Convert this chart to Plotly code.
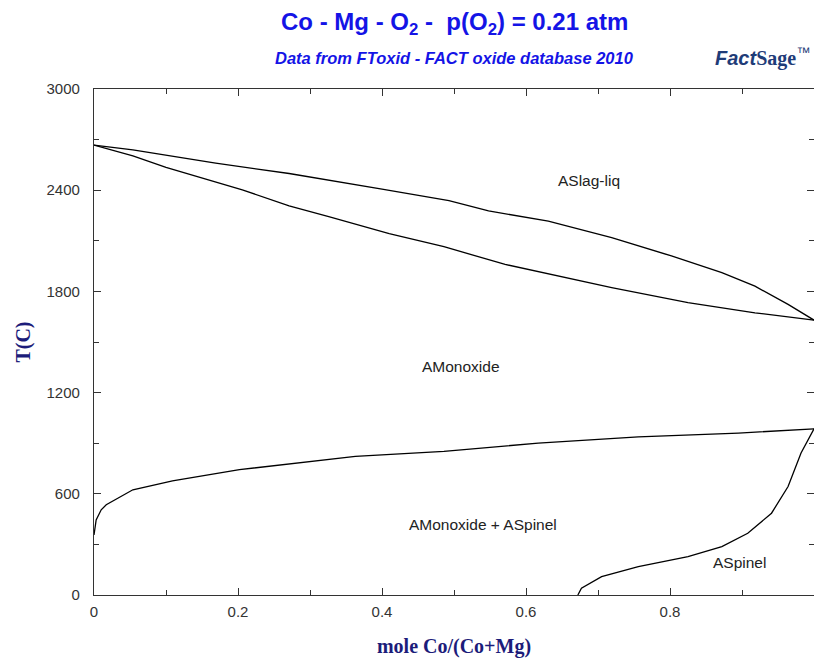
import plotly.graph_objects as go

# Liquidus (upper boundary of two-phase region)
liq_x = [0.0, 0.054, 0.169, 0.271, 0.400, 0.493, 0.548, 0.631, 0.719, 0.802, 0.872, 0.918, 0.964, 1.0]
liq_T = [2667, 2639, 2560, 2499, 2406, 2338, 2277, 2217, 2119, 2010, 1911, 1831, 1723, 1630]

# Solidus (lower boundary of two-phase region)
sol_x = [0.0, 0.054, 0.100, 0.155, 0.206, 0.271, 0.326, 0.410, 0.486, 0.571, 0.719, 0.825, 0.918, 1.0]
sol_T = [2667, 2604, 2535, 2465, 2402, 2307, 2244, 2143, 2065, 1960, 1822, 1733, 1673, 1630]

# Monoxide / Monoxide + Spinel boundary
mono_x = [0.0, 0.003, 0.010, 0.017, 0.054, 0.109, 0.202, 0.280, 0.363, 0.486, 0.617, 0.756, 0.895, 1.0]
mono_T = [356, 445, 505, 535, 624, 677, 743, 782, 822, 851, 901, 937, 960, 985]

# Spinel boundary
spin_x = [0.672, 0.677, 0.705, 0.756, 0.825, 0.872, 0.908, 0.941, 0.964, 0.982, 1.0]
spin_T = [0, 40, 109, 168, 228, 287, 366, 485, 643, 842, 985]

# Phase field labels
lab_text = ["ASlag-liq", "AMonoxide", "AMonoxide + ASpinel", "ASpinel"]
lab_x = [0.688, 0.51, 0.54, 0.897]
lab_T = [2459, 1354, 416, 190]

x_ticks = [0, 0.2, 0.4, 0.6, 0.8]
y_ticks = [0, 600, 1200, 1800, 2400, 3000]

fig = go.Figure()
for xs, ys in [(liq_x, liq_T), (sol_x, sol_T), (mono_x, mono_T), (spin_x, spin_T)]:
    fig.add_trace(go.Scatter(x=xs, y=ys, mode="lines",
                             line=dict(color="black", width=1.3),
                             showlegend=False, hoverinfo="skip"))

for t, x, y in zip(lab_text, lab_x, lab_T):
    fig.add_annotation(x=x, y=y, text=t, showarrow=False,
                       font=dict(family="Arial, Liberation Sans", size=15.5, color="#222"))

fig.add_annotation(xref="paper", yref="paper", x=0.5, y=1, yshift=66, yanchor="middle",
                   text="<b>Co - Mg - O<sub>2</sub> -  p(O<sub>2</sub>) = 0.21 atm</b>",
                   showarrow=False,
                   font=dict(family="Arial, Liberation Sans", size=24, color="#1414e6"))
fig.add_annotation(xref="paper", yref="paper", x=0.5, y=1, yshift=31, yanchor="middle",
                   text="<b><i>Data from FToxid - FACT oxide database 2010</i></b>",
                   showarrow=False,
                   font=dict(family="Arial, Liberation Sans", size=16.5, color="#1414e6"))
fig.add_annotation(xref="paper", yref="paper", x=1, xanchor="right", xshift=-2, y=1, yshift=32, yanchor="middle",
                   text="<b><i>Fact</i></b><span style='font-family:Liberation Serif'><b>Sage</b></span><sup>™</sup>",
                   showarrow=False,
                   font=dict(family="Arial, Liberation Sans", size=20, color="#1f3c78"))

axis_common = dict(showline=True, linecolor="#333", linewidth=1.3, mirror="ticks",
                   ticks="inside", ticklen=7, tickcolor="#333", tickwidth=1.3,
                   showgrid=False, zeroline=False,
                   tickfont=dict(family="Arial, Liberation Sans", size=15, color="#333"))

fig.update_xaxes(range=[0, 1.0], tickvals=x_ticks, ticktext=["0", "0.2", "0.4", "0.6", "0.8"],
                 minor=dict(ticks="inside", ticklen=5, dtick=0.1, tickcolor="#333"),
                 ticklabelstandoff=3,
                 title=dict(text="<b>mole Co/(Co+Mg)</b>", standoff=19,
                            font=dict(family="Liberation Serif, Times New Roman", size=20, color="#1c1c7a")),
                 **axis_common)
fig.update_yaxes(range=[0, 3000], tickvals=y_ticks,
                 minor=dict(ticks="inside", ticklen=5, dtick=300, tickcolor="#333"),
                 ticklabelstandoff=10,
                 title=dict(text="<b>T(C)</b>", standoff=10,
                            font=dict(family="Liberation Serif, Times New Roman", size=20, color="#1c1c7a")),
                 **axis_common)

fig.update_layout(width=814, height=658, margin=dict(l=94, r=0, t=89, b=63),
                  plot_bgcolor="white", paper_bgcolor="white")

fig.write_html("out.html", config={"displayModeBar": False},
               post_script="document.body.style.margin='0';document.body.style.overflow='hidden';")
